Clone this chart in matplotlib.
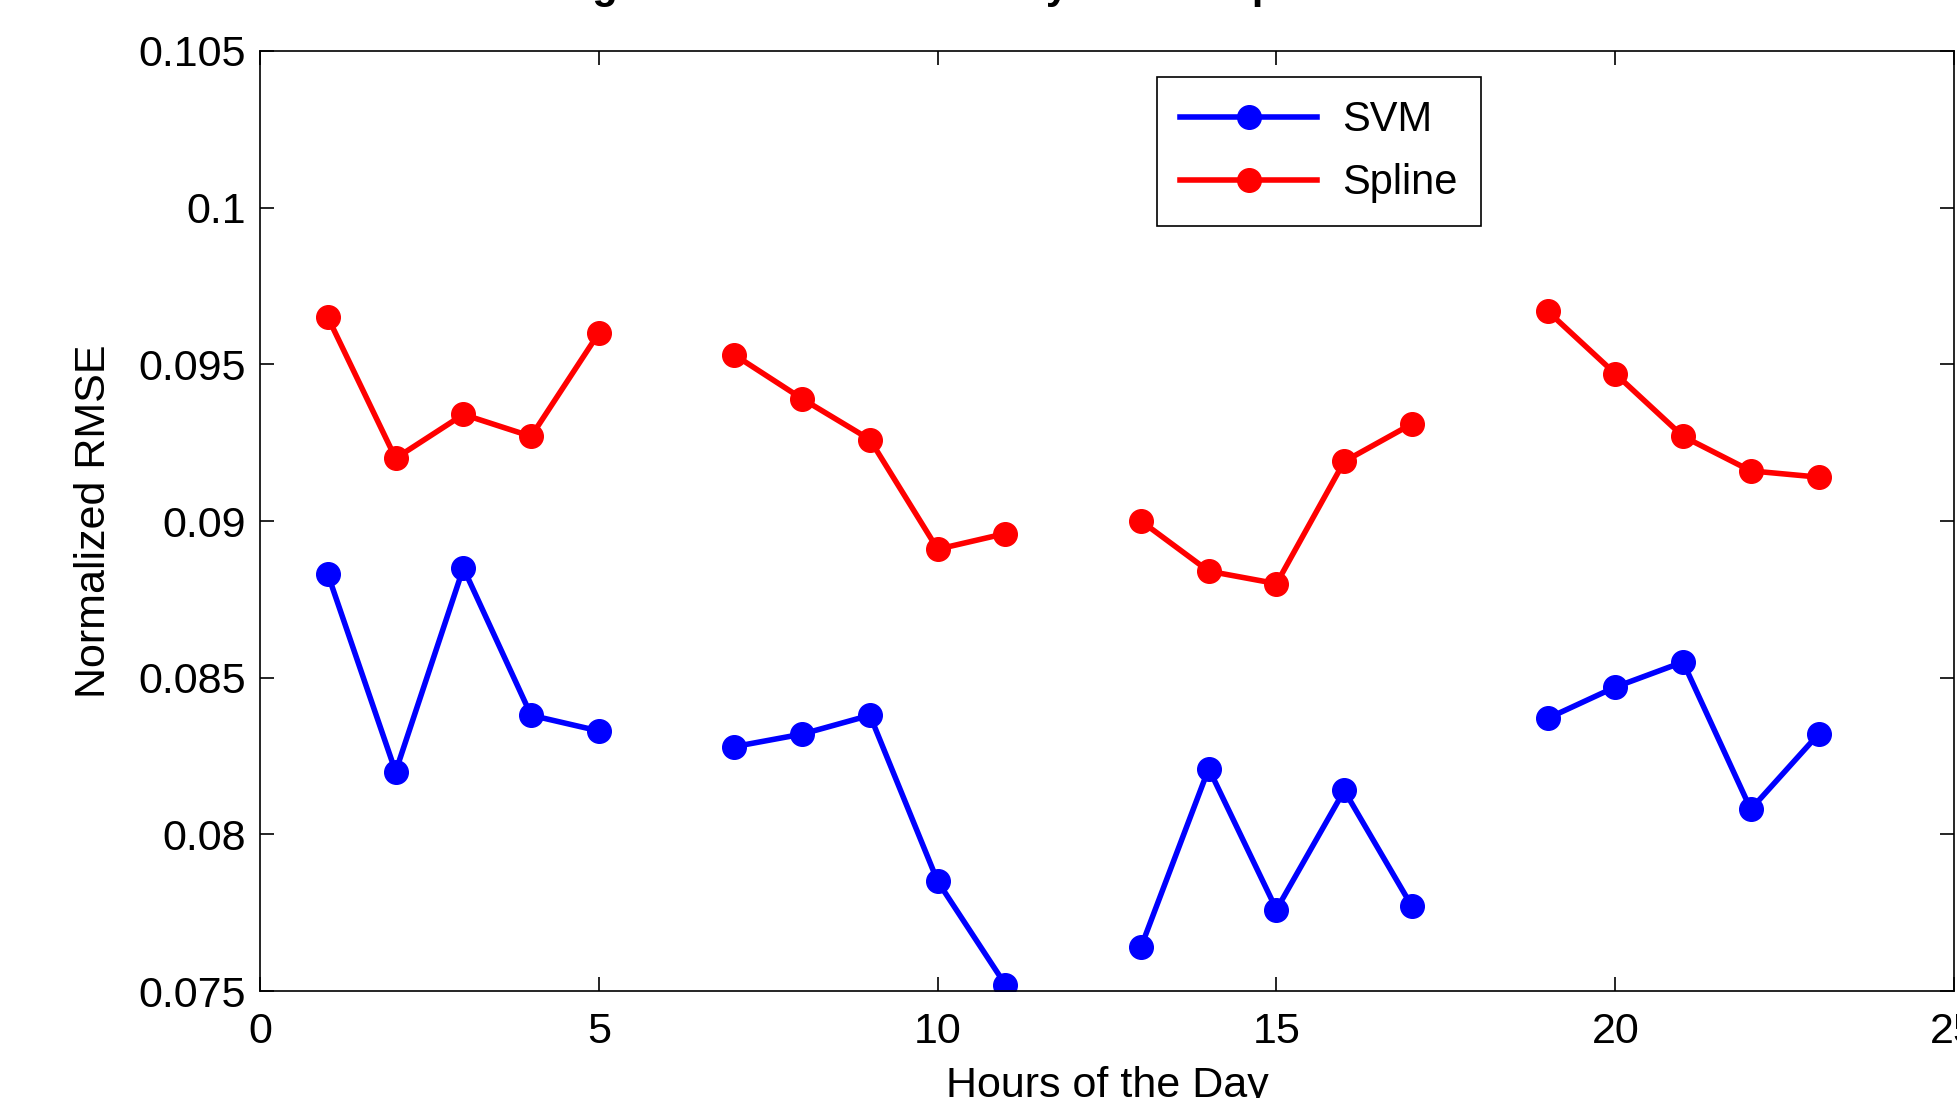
#!/usr/bin/env python3

import matplotlib.pyplot as plt
import numpy as np

plt.rcParams["font.family"] = ["Liberation Sans", "DejaVu Sans"]

hours = [1, 2, 3, 4, 5, 6, 7, 8, 9, 10, 11, 12, 13, 14, 15, 16, 17, 18, 19, 20, 21, 22, 23]
nan = np.nan
svm = [0.0883, 0.0820, 0.0885, 0.0838, 0.0833, nan,
       0.0828, 0.0832, 0.0838, 0.0785, 0.0752, nan,
       0.0764, 0.0821, 0.0776, 0.0814, 0.0777, nan,
       0.0837, 0.0847, 0.0855, 0.0808, 0.0832]
spline = [0.0965, 0.0920, 0.0934, 0.0927, 0.0960, nan,
          0.0953, 0.0939, 0.0926, 0.0891, 0.0896, nan,
          0.0900, 0.0884, 0.0880, 0.0919, 0.0931, nan,
          0.0967, 0.0947, 0.0927, 0.0916, 0.0914]

xticks = [0, 5, 10, 15, 20, 25]
yticks = [0.075, 0.08, 0.085, 0.09, 0.095, 0.1, 0.105]
ytick_labels = ["0.075", "0.08", "0.085", "0.09", "0.095", "0.1", "0.105"]


def plot():
    fig = plt.figure(figsize=(19.57, 10.98), dpi=100)
    ax = fig.add_axes([0.1329, 0.0974, 0.8656, 0.8562])

    ax.plot(hours, svm, color="#0000ff", lw=4, marker="o", ms=17, label="SVM")
    ax.plot(hours, spline, color="#ff0000", lw=4, marker="o", ms=17, label="Spline")

    ax.set_xlim(0, 25)
    ax.set_ylim(0.075, 0.105)
    ax.set_xticks(xticks)
    ax.set_yticks(yticks)
    ax.set_yticklabels(ytick_labels)
    ax.tick_params(direction="in", length=10, width=1.2, top=True, right=True,
                   labelsize=31, pad=10)
    ax.tick_params(axis="x", pad=15)
    for s in ax.spines.values():
        s.set_linewidth(1.2)

    ax.set_xlabel("Hours of the Day", fontsize=31, labelpad=10)
    ax.set_ylabel("Normalized RMSE", fontsize=31, labelpad=18)

    fig.text(0.4667, 1.002, "Average Normalized RMSE by SVM & Spline",
             ha="center", va="baseline", fontsize=30, fontweight="bold")

    leg = ax.legend(loc="upper left", bbox_to_anchor=(0.5295, 0.972), borderaxespad=0,
                    fontsize=30, fancybox=False, edgecolor="black", framealpha=1,
                    handlelength=3.3, handletextpad=0.6, borderpad=0.55,
                    labelspacing=0.55)
    leg.get_frame().set_linewidth(1.2)

    fig.savefig("out.png", dpi=100)


def main():
    plot()


if __name__ == "__main__":
    main()
